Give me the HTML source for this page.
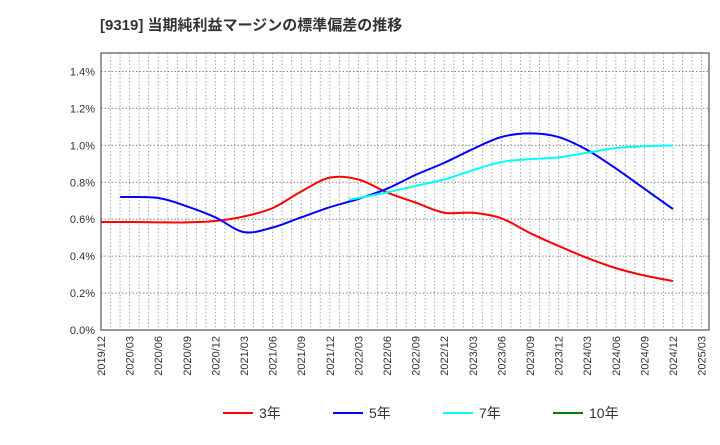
<!DOCTYPE html>
<html><head><meta charset="utf-8"><style>
body{margin:0;background:#fff;font-family:"Liberation Sans","Noto Sans CJK JP",sans-serif;}
</style></head><body>
<svg width="720" height="440" xmlns="http://www.w3.org/2000/svg" font-family="Liberation Sans, Noto Sans CJK JP, sans-serif">
<text x="100" y="30" font-size="15" font-weight="bold" fill="#333">[9319]  当期純利益マージンの標準偏差の推移</text>
<g id="grid"></g><g id="axes"></g><g id="series"></g>
<rect x="101" y="53" width="608" height="277" fill="none" stroke="#333"/>
<g id="legend"></g>
</svg>
<script>
const xLabels=["2019/12","2020/03","2020/06","2020/09","2020/12","2021/03","2021/06","2021/09","2021/12","2022/03","2022/06","2022/09","2022/12","2023/03","2023/06","2023/09","2023/12","2024/03","2024/06","2024/09","2024/12","2025/03"];
const yTicks=[0,0.2,0.4,0.6,0.8,1.0,1.2,1.4];
const s3=[0.585,0.585,0.583,0.583,0.59,0.615,0.66,0.75,0.825,0.815,0.745,0.69,0.635,0.635,0.605,0.525,0.455,0.39,0.335,0.295,0.265];
const s5=[null,0.72,0.715,0.67,0.61,0.53,0.555,0.61,0.665,0.71,0.765,0.84,0.905,0.98,1.045,1.065,1.045,0.975,0.875,0.765,0.655];
const s7=[null,null,null,null,null,null,null,null,null,0.705,0.745,0.78,0.815,0.865,0.91,0.925,0.935,0.96,0.985,0.995,1.0];
const s10=[];
const ns="http://www.w3.org/2000/svg";
const X0=101,X1=709,Y0=330,Y1=53,STEP=28.6;
const xs=i=>X0+STEP*i;
const ys=v=>Y0-(v/1.5)*(Y0-Y1);
function mk(t,a,p){const e=document.createElementNS(ns,t);for(const k in a)e.setAttribute(k,a[k]);p.appendChild(e);return e;}
const grid=document.getElementById('grid'),axes=document.getElementById('axes'),ser=document.getElementById('series'),leg=document.getElementById('legend');
for(let x=X0+STEP/3;x<X1-1;x+=STEP/3){
const l=mk('line',{x1:x,x2:x,y1:Y1,y2:Y0,stroke:'#aaa','stroke-dasharray':'1.5,2'},grid);

}
yTicks.forEach(v=>{const y=ys(v);
const l=mk('line',{x1:X0,x2:X1,y1:y,y2:y,stroke:'#888','stroke-dasharray':'1.5,2'},grid);


const t=mk('text',{x:X0-6,y:y+4,'text-anchor':'end','font-size':'11',fill:'#333'},axes);t.textContent=v.toFixed(1)+'%';

});
xLabels.forEach((s,i)=>{const x=xs(i);
const t=mk('text',{x:x+4,y:Y0+6,'text-anchor':'end','font-size':'11',fill:'#333',transform:`rotate(-90 ${x+4} ${Y0+6})`},axes);t.textContent=s;

});
function path(arr,off){const p=[];let first=true;arr.forEach((v,i)=>{if(v!=null){p.push([xs(first?i-off:i),ys(v)]);first=false;}});if(p.length<2)return '';
let d=`M${p[0][0]},${p[0][1]}`;for(let i=0;i<p.length-1;i++){const a=p[i-1]||p[i],b=p[i],c=p[i+1],e=p[i+2]||c;
d+=` C${b[0]+(c[0]-a[0])/6},${b[1]+(c[1]-a[1])/6} ${c[0]-(e[0]-b[0])/6},${c[1]-(e[1]-b[1])/6} ${c[0]},${c[1]}`;}return d;}
const S=[[s3,'#ff0000','3年','series-3yr',0],[s5,'#0000ff','5年','series-5yr',0.33],[s7,'#00ffff','7年','series-7yr',0.33],[s10,'#008000','10年','series-10yr',0]];
S.forEach(([a,c,n,id,off],k)=>{const d=path(a,off);if(d){const p=mk('path',{d,fill:'none',stroke:c,'stroke-width':'2'},ser);

}
const lx=[223,333,443,553][k];
const g=mk('g',{},leg);


mk('line',{x1:lx,x2:lx+30,y1:413,y2:413,stroke:c,'stroke-width':'2'},g);
const t=mk('text',{x:lx+36,y:418,'font-size':'14',fill:'#333'},g);t.textContent=n;});
</script>
</body></html>
